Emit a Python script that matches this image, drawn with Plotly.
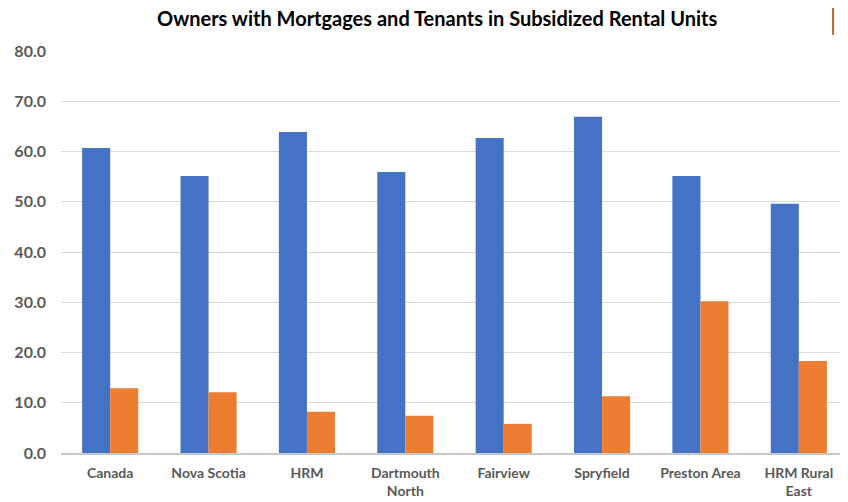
import plotly.graph_objects as go

areas = ["Canada", "Nova Scotia", "HRM", "Dartmouth<br>North", "Fairview",
         "Spryfield", "Preston Area", "HRM Rural<br>East"]
owners_mortgage = [60.7, 55.1, 63.9, 55.9, 62.7, 66.9, 55.1, 49.6]
tenants_subsidized = [12.9, 12.1, 8.2, 7.4, 5.8, 11.3, 30.2, 18.3]
y_ticks = [0, 10, 20, 30, 40, 50, 60, 70, 80]

font_family = "Lato, 'Open Sans', sans-serif"
grey = "#595959"

fig = go.Figure()
fig.add_trace(go.Bar(x=areas, y=owners_mortgage, name="Owners with mortgages",
                     marker=dict(color="#4472C4", line=dict(width=0))))
fig.add_trace(go.Bar(x=areas, y=tenants_subsidized, name="Tenants in subsidized units",
                     marker=dict(color="#ED7D31", line=dict(width=0))))

# the page body has an 8px margin, so the figure is made 8px smaller
fig.update_layout(
    width=840, height=494,
    margin=dict(l=53, r=0, t=43, b=49),
    paper_bgcolor="white", plot_bgcolor="white",
    barmode="group",
    bargap=0.43,
    bargroupgap=0,
    showlegend=False,
    font=dict(family=font_family, color=grey),
)
fig.add_annotation(
    text="<b>Owners with Mortgages and Tenants in Subsidized Rental Units</b>",
    xref="paper", yref="paper", x=0.478, y=1.082,
    xanchor="center", yanchor="middle", showarrow=False,
    font=dict(family=font_family, size=20, color="black"),
)
fig.update_yaxes(
    range=[0, 80], tickvals=y_ticks, tickformat=".1f",
    showgrid=True, gridcolor="#D9D9D9", gridwidth=1,
    zeroline=False, showline=False,
    tickfont=dict(family=font_family, size=16, color=grey, weight="bold"),
    ticks="", ticklabelstandoff=14,
)
fig.update_xaxes(
    showgrid=False, showline=True, linecolor="#C8C8C8", linewidth=1.5,
    ticks="", tickfont=dict(family=font_family, size=14, color=grey, weight="bold"),
    ticklabelstandoff=6,
)
# cropped legend remnant at the top right of the original
fig.add_shape(type="line", xref="paper", yref="paper",
              x0=0.981, x1=0.981, y0=1.04, y1=1.107,
              line=dict(color="#B0703A", width=2))

fig.write_html("out.html")
